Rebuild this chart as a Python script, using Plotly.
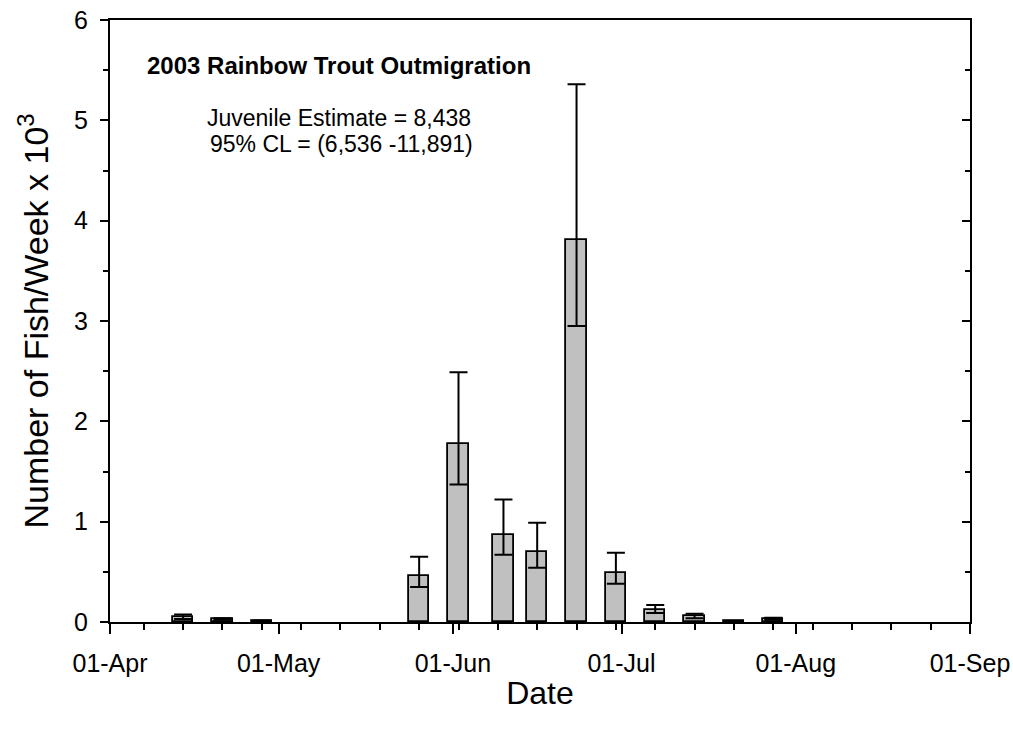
import plotly.graph_objects as go

# Weekly outmigration estimates (thousands of fish) with 95% confidence limits
week_dates = ["2003-04-14", "2003-04-21", "2003-04-28", "2003-05-26", "2003-06-02",
              "2003-06-10", "2003-06-16", "2003-06-23", "2003-06-30", "2003-07-07",
              "2003-07-14", "2003-07-21", "2003-07-28"]
estimate = [0.05, 0.03, 0.012, 0.46, 1.77, 0.87, 0.70, 3.81, 0.49, 0.12, 0.057, 0.006, 0.03]
lower_cl = [0.03, 0.022, 0.008, 0.35, 1.37, 0.67, 0.54, 2.95, 0.38, 0.09, 0.037, 0.004, 0.022]
upper_cl = [0.075, 0.038, 0.016, 0.65, 2.49, 1.22, 0.99, 5.36, 0.69, 0.17, 0.083, 0.008, 0.042]

month_ticks = ["2003-04-01", "2003-05-01", "2003-06-01", "2003-07-01", "2003-08-01", "2003-09-01"]
month_labels = ["01-Apr", "01-May", "01-Jun", "01-Jul", "01-Aug", "01-Sep"]

FONT = "Arial, Liberation Sans, sans-serif"
DAY_MS = 86400000

err_plus = [u - e for u, e in zip(upper_cl, estimate)]
err_minus = [e - l for e, l in zip(estimate, lower_cl)]

fig = go.Figure()
fig.add_trace(go.Bar(
    x=week_dates, y=estimate,
    width=[3.6 * DAY_MS] * len(week_dates),
    marker=dict(color="#C0C0C0", line=dict(color="black", width=1.8)),
    error_y=dict(type="data", symmetric=False, array=err_plus, arrayminus=err_minus,
                 color="black", thickness=2, width=9),
    showlegend=False, hoverinfo="skip",
))
# invisible trace carrying the right-hand tick axis
fig.add_trace(go.Scatter(x=[month_ticks[0]], y=[0], yaxis="y2", mode="markers",
                         marker=dict(opacity=0), showlegend=False, hoverinfo="skip"))


def text_note(text, x_px, y_px, size=24, bold=False):
    """Annotation placed in plot-area pixel terms (frame spans x 110-970, y 20-622)."""
    return dict(text=f"<b>{text}</b>" if bold else text, xref="paper", yref="paper",
                x=(x_px - 110) / 860, y=(622 - y_px) / 602,
                xanchor="center", yanchor="middle", showarrow=False,
                font=dict(size=size, family=FONT))


fig.update_layout(
    width=1013, height=734,
    margin=dict(l=110, r=43, t=20, b=112),
    paper_bgcolor="white", plot_bgcolor="white",
    font=dict(family=FONT, color="black"),
    bargap=0,
    xaxis=dict(
        type="date", automargin=False,
        range=["2003-04-01", "2003-09-01"],
        tickmode="array", tickvals=month_ticks, ticktext=month_labels,
        ticks="outside", ticklen=10, tickwidth=1.8, tickcolor="black",
        minor=dict(ticks="outside", ticklen=6, tickwidth=1.8, tickcolor="black",
                   dtick=7 * DAY_MS, tick0="2003-04-07"),
        showline=True, linewidth=2.2, linecolor="black", mirror=True,
        showgrid=False, zeroline=False,
        tickfont=dict(size=25, family=FONT),
        ticklabelstandoff=8,
        title=dict(text="Date", font=dict(size=32, family=FONT), standoff=6),
    ),
    yaxis=dict(
        automargin=False,
        range=[0, 6], dtick=1, tick0=0,
        ticks="outside", ticklen=8, tickwidth=1.8, tickcolor="black",
        minor=dict(ticks="outside", ticklen=5, tickwidth=1.8, tickcolor="black", dtick=0.5),
        showline=True, linewidth=2.2, linecolor="black", mirror=True,
        showgrid=False, zeroline=False,
        tickfont=dict(size=25, family=FONT),
        ticklabelstandoff=7,
        title=dict(text="Number of Fish/Week x 10<sup>3</sup>",
                   font=dict(size=34, family=FONT), standoff=15),
    ),
    yaxis2=dict(
        overlaying="y", side="right", range=[0, 6], dtick=1, tick0=0, automargin=False,
        ticks="inside", ticklen=8, tickwidth=1.8, tickcolor="black",
        minor=dict(ticks="inside", ticklen=5, tickwidth=1.8, tickcolor="black", dtick=0.5),
        showticklabels=False, showline=False, showgrid=False, zeroline=False,
    ),
    annotations=[
        text_note("2003 Rainbow Trout Outmigration", 339, 66, bold=True),
        text_note("Juvenile Estimate = 8,438", 339, 118, size=23),
        text_note("95% CL = (6,536 -11,891)", 341, 144, size=23),
    ],
)

fig.write_html("out.html")
